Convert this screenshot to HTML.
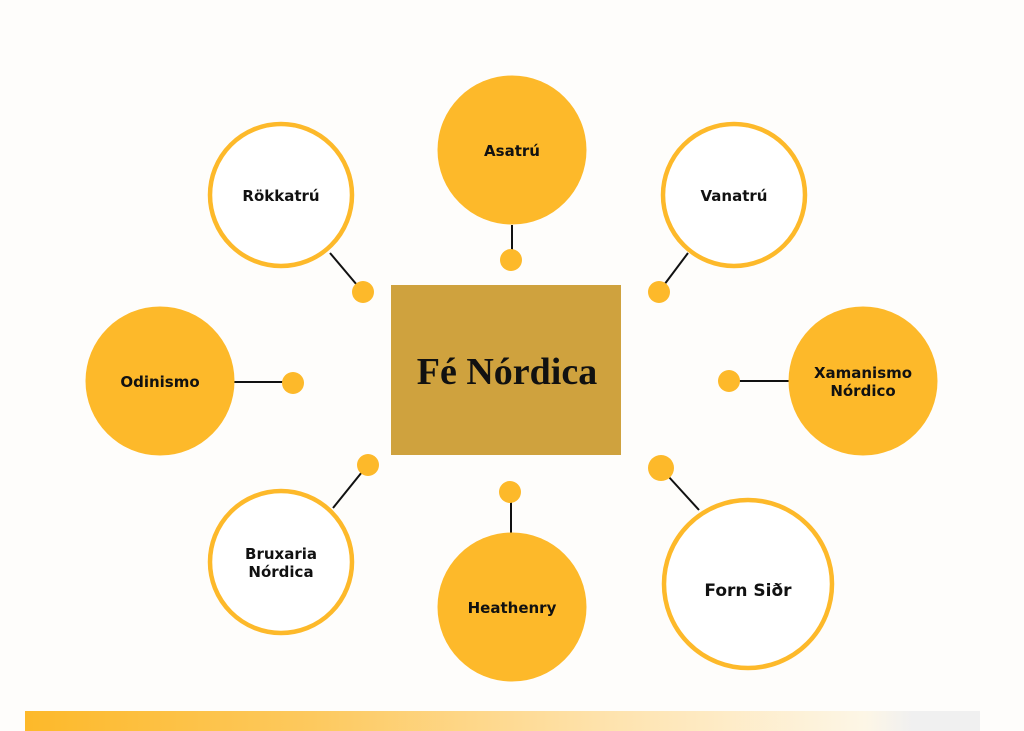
<!DOCTYPE html>
<html><head><meta charset="utf-8"><style>
html,body{margin:0;padding:0;background:#fefdfb;width:1024px;height:731px;overflow:hidden}
svg{display:block}
text{font-family:"DejaVu Sans","Liberation Sans",sans-serif;font-weight:bold;font-size:15px;fill:#111;text-anchor:middle}
</style></head><body>
<svg width="1024" height="731" viewBox="0 0 1024 731" xmlns="http://www.w3.org/2000/svg">
<defs><linearGradient id="g" x1="0" x2="1" y1="0" y2="0">
<stop offset="0" stop-color="#fdb92a"/><stop offset="0.3" stop-color="#fdc95e"/><stop offset="0.6" stop-color="#fee2ab"/><stop offset="0.88" stop-color="#fdf6e6"/><stop offset="0.93" stop-color="#f0f0f0"/><stop offset="1" stop-color="#f0f0f0"/></linearGradient></defs>
<rect x="25" y="711" width="955" height="20" fill="url(#g)"/>
<g stroke="#111" stroke-width="2">
<line x1="512" y1="225" x2="512" y2="252"/>
<line x1="330" y1="253" x2="357" y2="285"/>
<line x1="688" y1="253" x2="664" y2="285"/>
<line x1="234" y1="382" x2="285" y2="382"/>
<line x1="737" y1="381" x2="790" y2="381"/>
<line x1="362" y1="472" x2="333" y2="508"/>
<line x1="511" y1="500" x2="511" y2="533"/>
<line x1="668" y1="476" x2="699" y2="510"/>
</g>
<g fill="#fdb92a">
<circle cx="512" cy="150" r="74.5"/>
<circle cx="160" cy="381" r="74.5"/>
<circle cx="863" cy="381" r="74.5"/>
<circle cx="512" cy="607" r="74.5"/>
<circle cx="511" cy="260" r="11"/>
<circle cx="363" cy="292" r="11"/>
<circle cx="659" cy="292" r="11"/>
<circle cx="293" cy="383" r="11"/>
<circle cx="729" cy="381" r="11"/>
<circle cx="368" cy="465" r="11"/>
<circle cx="661" cy="468" r="13"/>
<circle cx="510" cy="492" r="11"/>
</g>
<g fill="#fff" stroke="#fdb92a" stroke-width="4.5">
<circle cx="281" cy="195" r="71"/>
<circle cx="734" cy="195" r="71"/>
<circle cx="281" cy="562" r="71"/>
<circle cx="748" cy="584" r="84"/>
</g>
<rect x="391" y="285" width="230" height="170" fill="#cfa23e"/>
<text x="507" y="384" style="font-family:'Liberation Serif',serif;font-size:38px;fill:#111">Fé Nórdica</text>
<text x="512" y="156">Asatrú</text>
<text x="281" y="201">Rökkatrú</text>
<text x="734" y="201">Vanatrú</text>
<text x="160" y="387">Odinismo</text>
<text x="863" y="378">Xamanismo</text>
<text x="863" y="396">Nórdico</text>
<text x="281" y="559">Bruxaria</text>
<text x="281" y="577">Nórdica</text>
<text x="512" y="613">Heathenry</text>
<text x="748" y="596" style="font-size:17px">Forn Siðr</text>
</svg>
</body></html>
